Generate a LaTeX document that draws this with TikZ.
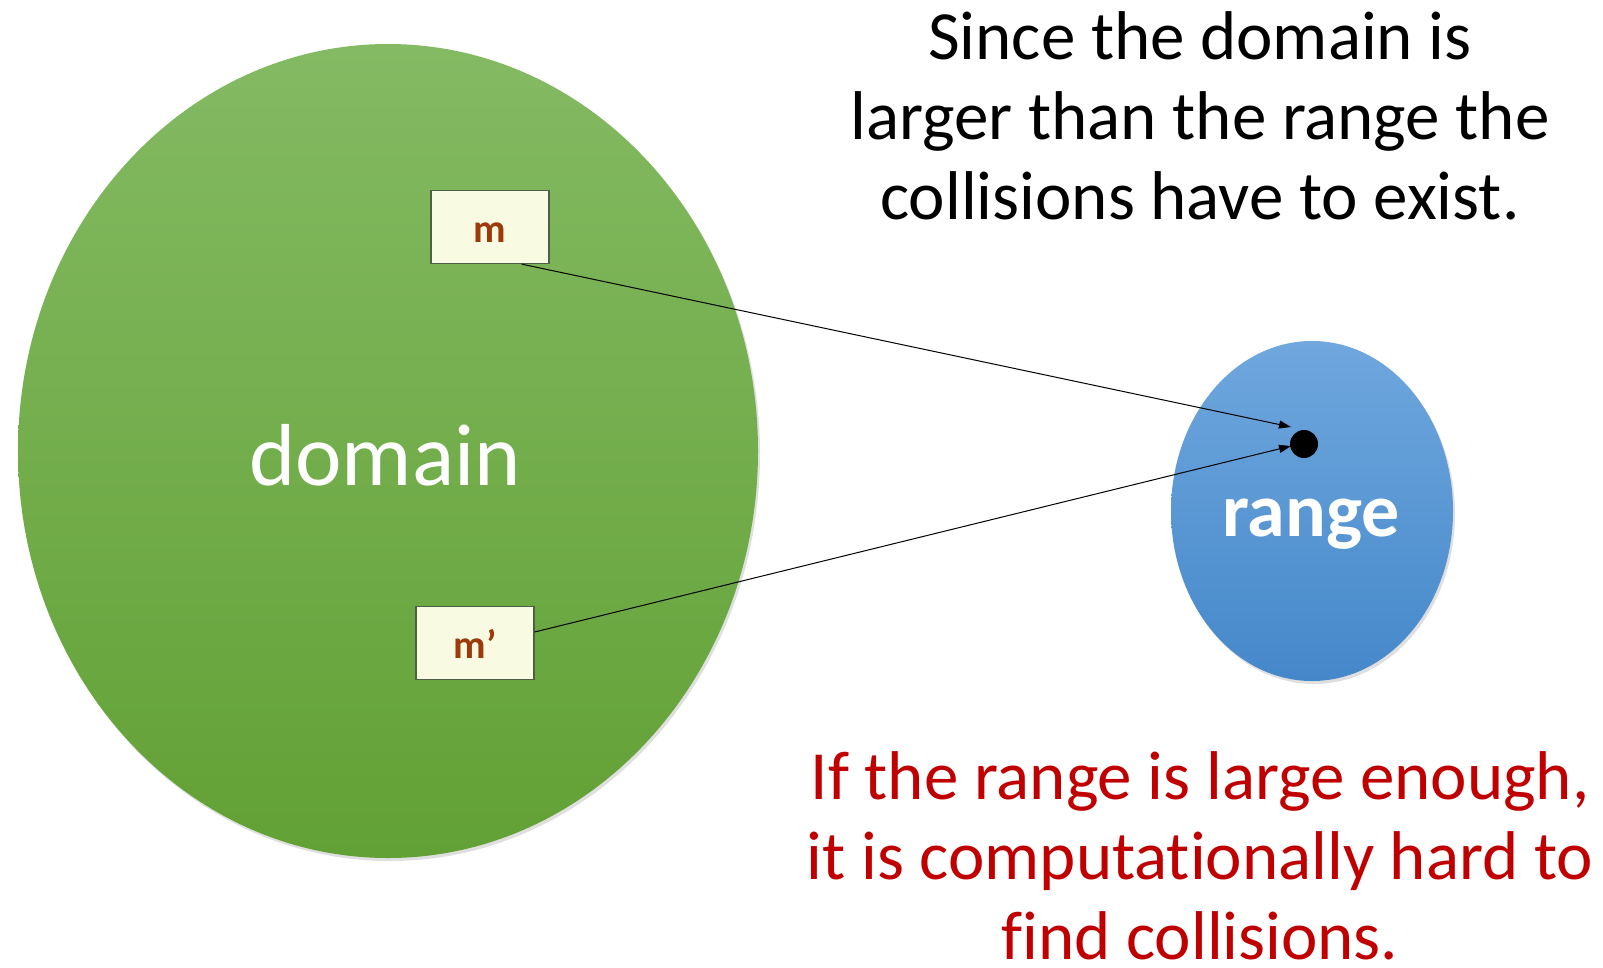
\documentclass[tikz,border=0pt]{standalone}
\usepackage{fontspec}
\setmainfont{Carlito}[Ligatures=NoCommon]
\usetikzlibrary{shapes.geometric,arrows.meta,shadows}
\definecolor{greentop}{HTML}{84BA63}
\definecolor{greenbot}{HTML}{62A135}
\definecolor{bluetop}{HTML}{6FA7DE}
\definecolor{bluebot}{HTML}{4588CA}
\definecolor{boxfill}{HTML}{F8FBE2}
\definecolor{boxline}{HTML}{4F5E46}
\definecolor{msgtext}{HTML}{9C3A0C}
\definecolor{warnred}{HTML}{C00000}
\tikzset{
  setshape/.style={ellipse, inner sep=0pt,
    drop shadow={opacity=0.25, shadow xshift=2pt, shadow yshift=-3pt}},
  msgbox/.style={draw=boxline, line width=1.2pt, fill=boxfill, inner sep=0pt,
    minimum width=118pt, minimum height=73pt, text=msgtext,
    text height=30pt, text depth=0pt,
    font=\bfseries\fontsize{40}{48}\selectfont},
  mapto/.style={draw=black, line width=1pt,
    -{Triangle[length=12pt, width=8pt]}},
  caption/.style={align=center, font=\fontsize{69}{80}\selectfont}
}
\begin{document}
\begin{tikzpicture}[x=1pt, y=-1pt]
  \useasboundingbox (0,0) rectangle (1603,967);

  % the two sets
  \node[setshape, minimum width=740pt, minimum height=814pt,
        top color=greentop, bottom color=greenbot] (domain) at (388,451) {};
  \node[setshape, minimum width=282pt, minimum height=340pt,
        top color=bluetop, bottom color=bluebot] (range) at (1312,511) {};

  \node[text=white, font=\fontsize{88}{100}\selectfont] (domlabel) at (385,455) {domain};
  \node[text=white, font=\bfseries\fontsize{76}{90}\selectfont] (rnglabel) at (1311,524) {range};

  % the common image point
  \node[circle, fill=black, inner sep=0pt, minimum size=28pt] (img) at (1304,444) {};
  \coordinate (tipa) at (1291,427);
  \coordinate (tipb) at (1291,446);

  % colliding messages
  \node[msgbox] (m) at (490,227) {m};
  \node[msgbox] (mp) at (475,643) {m’};

  \draw[mapto] ([xshift=-28pt]m.south east) -- (tipa);
  \draw[mapto] ([yshift=11pt]mp.east) -- (tipb);

  % explanatory text
  \node[caption, anchor=north] (why) at (1200,8)
    {Since the domain is\\ larger than the range the\\ collisions have to exist.};
  \node[caption, anchor=north, text=warnred] (hard) at (1200,748)
    {If the range is large enough,\\ it is computationally hard to\\ find collisions.};
\end{tikzpicture}
\end{document}
